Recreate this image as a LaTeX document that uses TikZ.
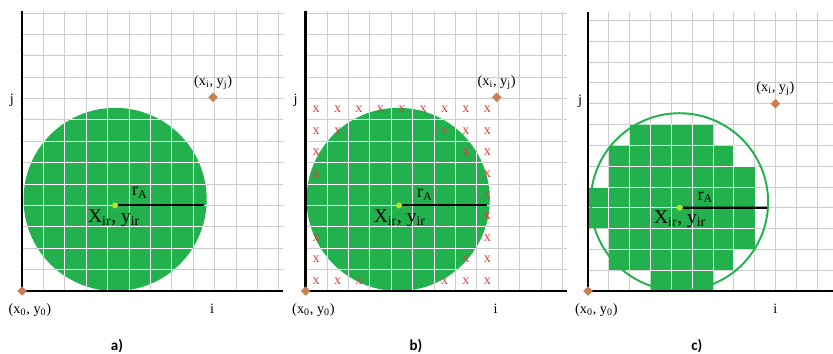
\documentclass[tikz,border=0pt]{standalone}
\usepackage{fontspec}
\setmainfont{Liberation Serif}
\newfontfamily\tagfont{Carlito}
\usepackage{tikz}
\usetikzlibrary{positioning, shapes.geometric}
\usepackage{xcolor}
\definecolor{disc}{RGB}{34,177,76}
\definecolor{pinbrown}{RGB}{200,128,82}
\definecolor{hubgreen}{RGB}{181,230,29}
\definecolor{gridgray}{RGB}{205,205,205}
\definecolor{missred}{RGB}{222,64,64}
% cell lines of one panel: #1 style, #2 last column, #3 last row, #4 width, #5 height
\newcommand{\cellgrid}[5]{%
  \foreach \k in {1,...,#2} \draw[#1] (\k,0) -- (\k,#5);
  \foreach \k in {1,...,#3} \draw[#1] (0,\k) -- (#4,\k);}

\begin{document}
\begin{tikzpicture}[
  x=0.5cm, y=0.5cm,
  axis/.style={line width=1.6pt, black},
  fine/.style={draw=gridgray, line width=0.45pt},
  wgrid/.style={draw=white, line width=0.5pt},
  pin/.style={diamond, fill=pinbrown, inner sep=0pt, minimum size=6.5pt},
  hub/.style={circle, fill=hubgreen, inner sep=0pt, minimum size=4pt},
  radius/.style={line width=1.4pt, black},
  lbl/.style={font=\fontsize{9.5}{11}\selectfont, inner sep=1pt},
  big/.style={font=\fontsize{13}{15}\selectfont, inner sep=0pt},
  rlbl/.style={font=\fontsize{12}{14}\selectfont, inner sep=0pt},
  tag/.style={font=\tagfont\bfseries\fontsize{10}{12}\selectfont},
  miss/.style={text=missred, font=\fontsize{9.5}{9.5}\selectfont, inner sep=0pt}
]
\useasboundingbox (-1.03,-2.94) rectangle (37.9,13.6);

% a) filled disc
\cellgrid{fine}{12}{13}{12.2}{13.1}
\fill[disc] (4.35,4.28) circle (4.28);
\begin{scope}
  \clip (4.35,4.28) circle (4.28);
  \cellgrid{wgrid}{12}{13}{12.2}{13.1}
\end{scope}
\draw[axis] (0,13.1) -- (0,0) -- (12.2,0);
\node[hub] (ctrA) at (4.35,4) {};
\coordinate (rimA) at (8.5,4);
\draw[radius] (ctrA) -- (rimA);
\node[rlbl] (rA) at (5.51,4.58) {r\textsubscript{A}};
\node[big] (cA) at (4.3,3.4) {X\textsubscript{ir}, y\textsubscript{ir}};
\node[pin] (ptA) at (8.93,9.05) {};
\node[lbl, above=0.5pt of ptA] (ptlA) {(x\textsubscript{i}, y\textsubscript{j})};
\node[pin] (orgA) at (0,0) {};
\node[lbl] (orglA) at (0.37,-0.89) {(x\textsubscript{0}, y\textsubscript{0})};
\node[lbl] (jA) at (-0.47,8.93) {j};
\node[lbl] (iA) at (8.88,-0.84) {i};
\node[tag] (tagA) at (4.44,-2.57) {a)};

% b) disc with boundary cells
\begin{scope}[shift={(13.25,0)}]
  \cellgrid{fine}{12}{13}{12.2}{13.1}
  \fill[disc] (4.33,4.28) circle (4.28);
  \begin{scope}
    \clip (4.33,4.28) circle (4.28);
    \cellgrid{wgrid}{12}{13}{12.2}{13.1}
  \end{scope}
  \draw[axis] (0,13.1) -- (0,0) -- (12.2,0);
  \foreach \r/\cols in {8/{0,1,2,3,4,5,6,7,8}, 7/{0,1,6,7,8}, 6/{0,7,8},
                        5/{0,8}, 4/{8}, 3/{8}, 2/{0,8}, 1/{0,7,8}, 0/{0,1,2,6,7,8}}
    \foreach \c in \cols
      \node[miss] (x\c-\r) at (\c+0.5,\r+0.48) {x};
  \node[hub] (ctrB) at (4.37,4) {};
  \coordinate (rimB) at (8.5,4);
  \draw[radius] (ctrB) -- (rimB);
  \node[rlbl] (rB) at (5.58,4.5) {r\textsubscript{A}};
  \node[big] (cB) at (4.4,3.4) {X\textsubscript{ir}, y\textsubscript{ir}};
  \node[pin] (ptB) at (8.93,9.05) {};
  \node[lbl, above=0.5pt of ptB] (ptlB) {(x\textsubscript{i}, y\textsubscript{j})};
  \node[pin] (orgB) at (0,0) {};
  \node[lbl] (orglB) at (0.37,-0.89) {(x\textsubscript{0}, y\textsubscript{0})};
  \node[lbl] (jB) at (-0.47,8.93) {j};
  \node[lbl] (iB) at (8.88,-0.84) {i};
\end{scope}
\node[tag] (tagB) at (18.41,-2.57) {b)};

% c) cells inside the disc
\begin{scope}[shift={(26.45,0)}, scale=0.973]
  \cellgrid{fine}{12}{13}{12.6}{13.4}
  \foreach \r/\a/\b in {7/2/5, 6/1/6, 5/1/7, 4/0/7, 3/0/7, 2/1/7, 1/1/6, 0/3/5}
    \fill[disc] (\a,\r) rectangle (\b+1,\r+1);
  \begin{scope}
    \clip foreach \r/\a/\b in {7/2/5, 6/1/6, 5/1/7, 4/0/7, 3/0/7, 2/1/7, 1/1/6, 0/3/5}
      {(\a,\r) rectangle (\b+1,\r+1)};
    \cellgrid{wgrid}{12}{13}{12.6}{13.4}
  \end{scope}
  \draw[disc, line width=1.3pt] (4.39,4.28) circle (4.26);
  \draw[axis] (0,13.4) -- (0,0) -- (12.6,0);
  \node[hub] (ctrC) at (4.4,4) {};
  \coordinate (rimC) at (8.6,4);
  \draw[radius] (ctrC) -- (rimC);
  \node[rlbl] (rC) at (5.63,4.5) {r\textsubscript{A}};
  \node[big] (cC) at (4.42,3.45) {X\textsubscript{ir}, y\textsubscript{ir}};
  \node[pin] (ptC) at (9,9) {};
  \node[lbl, above=0.5pt of ptC] (ptlC) {(x\textsubscript{i}, y\textsubscript{j})};
  \node[pin] (orgC) at (0,0) {};
  \node[lbl] (orglC) at (0.4,-0.9) {(x\textsubscript{0}, y\textsubscript{0})};
  \node[lbl] (jC) at (-0.38,9.1) {j};
  \node[lbl] (iC) at (9,-0.86) {i};
\end{scope}
\node[tag] (tagC) at (31.54,-2.57) {c)};
\end{tikzpicture}
\end{document}
